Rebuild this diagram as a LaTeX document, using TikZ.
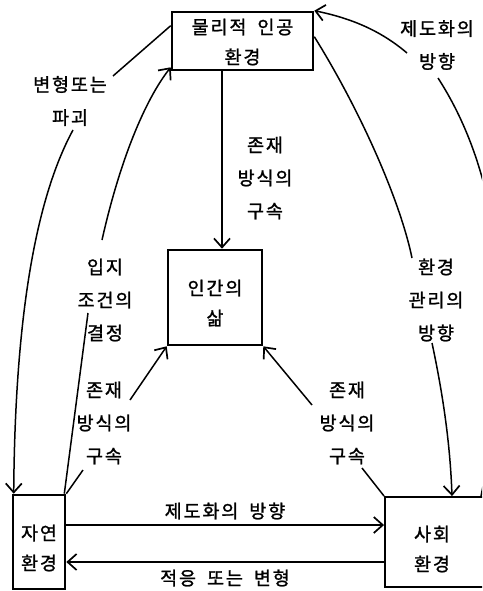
\documentclass[tikz,border=0pt]{standalone}
\usepackage{fontspec}
\newfontfamily\kr[LetterSpace=10,FakeBold=1.3]{Noto Sans CJK KR}
\usetikzlibrary{arrows.meta}
\begin{document}
\begin{tikzpicture}[x=1pt,y=-1pt,
  lbl/.style={font=\kr\fontsize{18.5}{33}\selectfont, align=center, inner sep=0pt},
  boxtxt/.style={font=\kr\fontsize{18.5}{30}\selectfont, align=center, inner sep=0pt},
  box/.style={draw, line width=2.6pt, inner sep=0pt},
  conn/.style={line width=1.5pt},
  arr/.style={conn, -{Straight Barb[length=9pt,width=16pt,line width=1.7pt]}},
]
\useasboundingbox (0,0) rectangle (482,591);
\clip (0,0) rectangle (482,591);

% boxes
\node[box, minimum width=141pt, minimum height=58pt] (phys) at (242.5,41) {};
\node[boxtxt] (physT) at (242.5,42) {물리적\hspace{5pt} 인공\\환경};
\node[box, minimum width=94pt, minimum height=95pt] (life) at (215,297.5) {};
\node[boxtxt] (lifeT) at (215,303) {인간의\\삶};
\node[box, minimum width=52pt, minimum height=94pt] (nat) at (39,542) {};
\node[boxtxt] (natT) at (39,548) {자연\\환경};
\node[box, line width=1.9pt, minimum width=110pt, minimum height=90pt] (soc) at (440,542) {};
\node[boxtxt] (socT) at (432,549) {사회\\환경};

% labels
\node[lbl] (l1) at (70,101) {변형또는\\파괴};
\node[lbl] (l2) at (105,300) {입지\\조건의\\결정};
\node[lbl] (l3) at (104,423) {존재\\방식의\\구속};
\node[lbl] (l4) at (265,178) {존재\\방식의\\구속};
\node[lbl] (l5) at (347,423) {존재\\방식의\\구속};
\node[lbl] (l6) at (436,300) {환경\\관리의\\방향};
\node[lbl] (l7) at (437,45) {제도화의\\방향};
\node[lbl] (h1) at (225,511) {제도화의\hspace{5pt} 방향};
\node[lbl] (h2) at (225,578) {적응\hspace{5pt} 또는\hspace{5pt} 변형};

% connector ends at labels
\coordinate (l1a) at (113,76);
\coordinate (l1b) at (73,130);
\coordinate (l2a) at (88,313);
\coordinate (l2b) at (102,240);
\coordinate (l3a) at (83,470);
\coordinate (l3b) at (130,400);
\coordinate (l5a) at (362,468);
\coordinate (l5b) at (312,405);
\coordinate (l6a) at (412,258);
\coordinate (l6b) at (432,343);
\coordinate (l7a) at (407,53);
\coordinate (l7b) at (438,78);

% physical -> nature (변형또는 파괴)
\draw[conn] (l1a) -- ([yshift=-15pt]phys.north west);
\draw[arr] (l1b) .. controls (35,200) and (15,320) .. ([xshift=2pt]nat.north west);
% nature -> physical (입지 조건의 결정)
\draw[conn] ([xshift=-2pt]nat.north east) -- (l2a);
\draw[arr] (l2b) .. controls (120,160) and (145,100) .. ([yshift=4pt]phys.south west);
% nature -> life
\draw[conn] (nat.north east) -- (l3a);
\draw[arr] (l3b) -- (life.south west);
% physical -> life
\draw[arr] ([xshift=-20.5pt]phys.south) -- ([xshift=7pt]life.north);
% society -> life
\draw[conn] (soc.north west) -- (l5a);
\draw[arr] (l5b) -- (life.south east);
% physical -> society (환경 관리의 방향)
\draw[conn] ([yshift=-26pt]phys.north east) .. controls (360,110) and (400,200) .. (l6a);
\draw[arr] (l6b) .. controls (442,390) and (450,440) .. ([xshift=12pt]soc.north);
% society -> physical (제도화의 방향)
\draw[arr] (l7a) .. controls (380,30) and (350,18) .. (phys.north east);
\draw[conn] ([xshift=41pt]soc.north) .. controls (486,470) and (500,420) .. (500,320)
   .. controls (500,220) and (478,140) .. (l7b);
% horizontal
\draw[arr] ([yshift=17pt]nat.east) -- ([yshift=17pt]soc.west);
\draw[arr] ([yshift=-20pt]soc.west) -- ([yshift=-20pt]nat.east);
\end{tikzpicture}
\end{document}
